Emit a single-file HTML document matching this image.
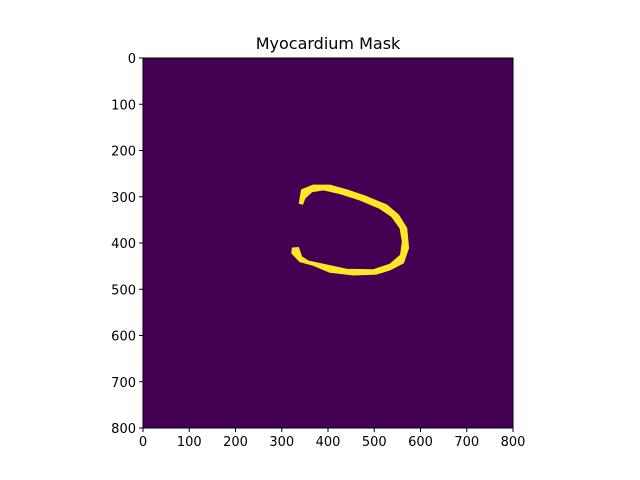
<!DOCTYPE html>
<html><head><meta charset="utf-8"><style>
body{margin:0;background:#fff;}
svg{display:block;font-family:"DejaVu Sans","Liberation Sans",sans-serif;}
</style></head><body>
<svg id="chart" width="640" height="480">
<text x="328" y="49" font-size="16" text-anchor="middle">Myocardium Mask</text>
<g id="plot"></g>
</svg>
<script>
const ticks=[0,100,200,300,400,500,600,700,800];
const maskX=[338,343,368,404,440,484,527,552,570,574,563,534,505,455,404,368,339,322,323,336,343,357,390,440,498,534,557,561,556,538,512,469,426,390,365,350,345];
const maskY=[314,285,275,275,285,300,318,339,368,411,443,458,467,469,463,448,440,422,411,410,430,439,446,457,458,446,426,397,368,343,325,307,293,285,289,303,316];
const L=143,T=58,W=370,H=370,N=800;
const sx=v=>L+v/N*W, sy=v=>T+v/N*H;
const ns="http://www.w3.org/2000/svg";
const g=document.getElementById('plot');
function mk(t,a){const e=document.createElementNS(ns,t);for(const k in a)e.setAttribute(k,a[k]);g.appendChild(e);return e;}
const bg=mk('rect',{x:L,y:T,width:W,height:H,fill:'#440154'});


const pts=maskX.map((x,i)=>sx(x)+','+sy(maskY[i])).join(' ');
const poly=mk('polygon',{points:pts,fill:'#fde725',stroke:'#fde725','stroke-width':1.2,'stroke-linejoin':'round'});


const fr=mk('rect',{x:L,y:T,width:W,height:H,fill:'none',stroke:'#000','stroke-width':1});


ticks.forEach(t=>{
  const x=sx(t);
  const a=mk('line',{x1:x,y1:T+H,x2:x,y2:T+H+4,stroke:'#000'});
  
  
  const b=mk('text',{x:x,y:T+H+18,'font-size':13,'text-anchor':'middle'});
  b.textContent=t;
  
  
  const y=sy(t);
  const c=mk('line',{x1:L-4,y1:y,x2:L,y2:y,stroke:'#000'});
  
  
  const d=mk('text',{x:L-7,y:y+5,'font-size':13,'text-anchor':'end'});
  d.textContent=t;
  
  
});
</script>
</body></html>
